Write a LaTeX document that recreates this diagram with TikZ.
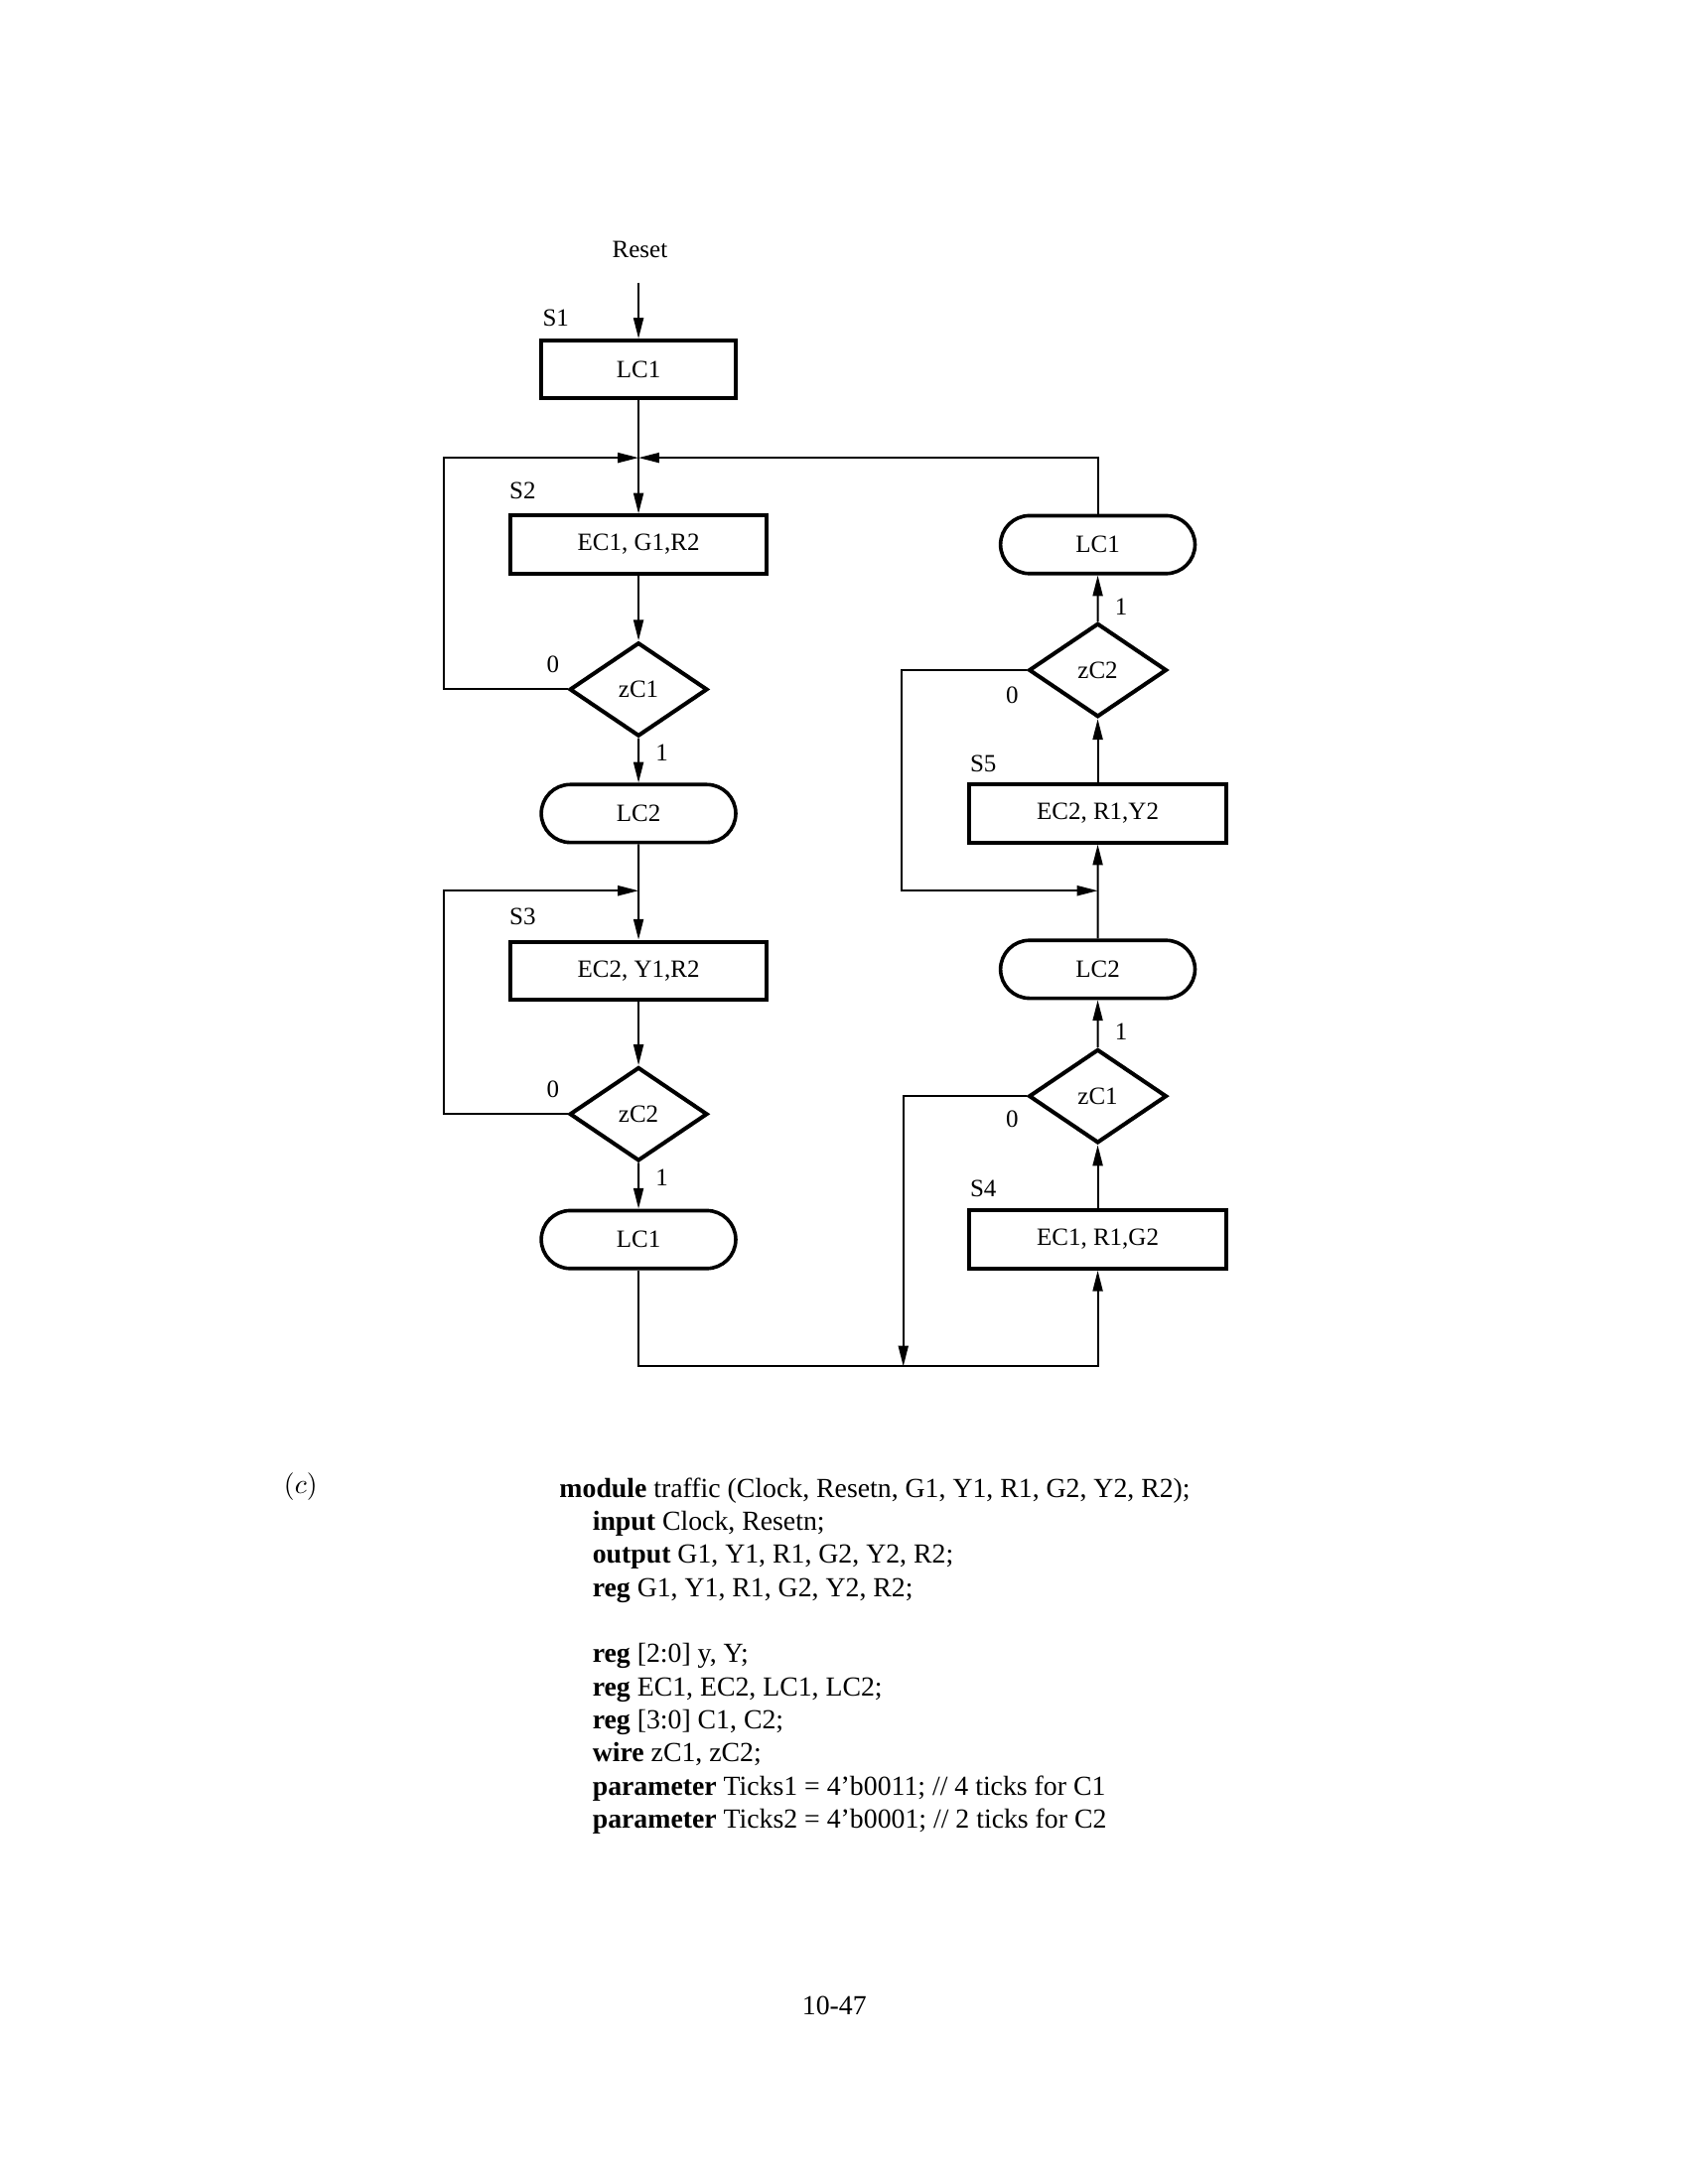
\documentclass[tikz,border=0pt]{standalone}
\usepackage{fontspec}
\setmainfont{Liberation Serif}
\usetikzlibrary{arrows.meta,shapes.geometric,shapes.misc}

\tikzset{every picture/.style={line width=0.7pt}}
\tikzset{
  chart/.style={font=\fontsize{9}{11}\selectfont},
  statebox/.style={chart,draw,line width=1.45pt,minimum width=93pt,minimum height=21pt,inner sep=0pt},
  condbox/.style={chart,draw,rounded rectangle,line width=1.3pt,minimum width=70.5pt,minimum height=21pt,inner sep=0pt},
  decision/.style={chart,draw,diamond,line width=1.45pt,minimum width=50pt,minimum height=34pt,inner sep=0pt},
  lbl/.style={chart,inner sep=0pt},
  flow/.style={-{Triangle[length=7.5pt,width=3.6pt]}}
}

\begin{document}
\begin{tikzpicture}[x=0.5pt,y=0.5pt,yscale=-1,xscale=1]
\useasboundingbox (0,0) rectangle (1224,1584);

%Left column
\node[lbl] (reset) at (464,181) {Reset};
\coordinate (rtop) at (463,205);
\node[statebox,minimum width=70.5pt] (s1) at (463,268) {LC1};
\node[lbl] (s1lab) at (403,231) {S1};
\coordinate (j1) at (463,332);
\node[statebox] (s2) at (463,395) {EC1, G1,R2};
\node[lbl] (s2lab) at (379,356) {S2};
\node[decision] (zc1a) at (463,500) {zC1};
\node[condbox] (lc2a) at (463,590) {LC2};
\coordinate (j2) at (463,646);
\node[statebox] (s3) at (463,704) {EC2, Y1,R2};
\node[lbl] (s3lab) at (379,665) {S3};
\node[decision] (zc2a) at (463,808) {zC2};
\node[condbox] (lc1a) at (463,899) {LC1};

%Right column
\coordinate (bot) at (655,991);
\node[statebox] (s4) at (796,899) {EC1, R1,G2};
\node[lbl] (s4lab) at (713,862) {S4};
\node[decision] (zc1b) at (796,795) {zC1};
\node[condbox] (lc2b) at (796,703) {LC2};
\coordinate (j3) at (796,646);
\node[statebox] (s5) at (796,590) {EC2, R1,Y2};
\node[lbl] (s5lab) at (713,554) {S5};
\node[decision] (zc2b) at (796,486) {zC2};
\node[condbox] (lc1b) at (796,395) {LC1};

%Branch labels
\node[lbl] (zc1a0) at (401,482) {0};
\node[lbl] (zc1a1) at (480,546) {1};
\node[lbl] (zc2a0) at (401,790) {0};
\node[lbl] (zc2a1) at (480,854) {1};
\node[lbl] (zc1b0) at (734,812) {0};
\node[lbl] (zc1b1) at (813,748) {1};
\node[lbl] (zc2b0) at (734,504) {0};
\node[lbl] (zc2b1) at (813,440) {1};

%Connectors
\draw[flow] (rtop) -- (s1);
\draw[flow] (s1) -- (s2);
\draw[flow] (zc1a.west) -- ++(-90,0) |- (j1);
\draw[flow] (lc1b.north) |- (j1);
\draw[flow] (s2) -- (zc1a);
\draw[flow] (zc1a) -- (lc2a);
\draw[flow] (lc2a) -- (s3);
\draw[flow] (zc2a.west) -- ++(-90,0) |- (j2);
\draw[flow] (s3) -- (zc2a);
\draw[flow] (zc2a) -- (lc1a);
\draw[flow] (lc1a) |- (bot) -| (s4);
\draw[flow] (zc1b.west) -| (bot);
\draw[flow] (s4) -- (zc1b);
\draw[flow] (zc1b) -- (lc2b);
\draw[flow] (lc2b) -- (s5);
\draw[flow] (zc2b.west) -- ++(-91,0) |- (j3);
\draw[flow] (s5) -- (zc2b);
\draw[flow] (zc2b) -- (lc1b);

% Text Node
\node[inner sep=0pt,font=\fontsize{10}{12}\selectfont] (tag) at (218,1078) {$(c)$};
% Text Node
\node[anchor=north west,inner sep=0pt,align=left,font=\fontsize{10}{12}\selectfont] (code) at (405,1071) {\textbf{module} traffic (Clock, Resetn, G1, Y1, R1, G2, Y2, R2);\\
\hspace*{12pt}\textbf{input} Clock, Resetn;\\
\hspace*{12pt}\textbf{output} G1, Y1, R1, G2, Y2, R2;\\
\hspace*{12pt}\textbf{reg} G1, Y1, R1, G2, Y2, R2;\\[12pt]
\hspace*{12pt}\textbf{reg} [2:0] y, Y;\\
\hspace*{12pt}\textbf{reg} EC1, EC2, LC1, LC2;\\
\hspace*{12pt}\textbf{reg} [3:0] C1, C2;\\
\hspace*{12pt}\textbf{wire} zC1, zC2;\\
\hspace*{12pt}\textbf{parameter} Ticks1 = 4’b0011; // 4 ticks for C1\\
\hspace*{12pt}\textbf{parameter} Ticks2 = 4’b0001; // 2 ticks for C2};
% Text Node
\node[inner sep=0pt,font=\fontsize{10}{12}\selectfont] (pageno) at (605,1455) {10-47};

\end{tikzpicture}
\end{document}
